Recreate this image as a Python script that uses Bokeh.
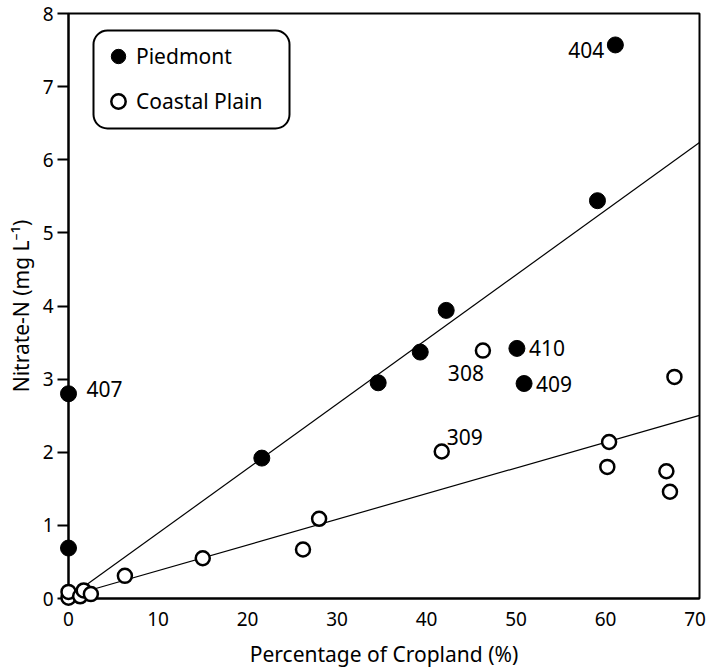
from bokeh.plotting import figure
from bokeh.models import (Range1d, FixedTicker, BoxAnnotation, Legend, LegendItem,
                          ColumnDataSource)
from bokeh.embed import file_html
from bokeh.resources import INLINE
from bokeh.core.properties import value

# ---- data ----
piedmont_x = [0.0, 0.0, 21.6, 34.6, 39.3, 42.2, 50.1, 50.9, 59.1, 61.1]
piedmont_y = [0.69, 2.80, 1.92, 2.95, 3.37, 3.94, 3.42, 2.94, 5.44, 7.57]
piedmont_lbl = ["", "407", "", "", "", "", "410", "409", "", "404"]

coastal_x = [0.0, 0.0, 1.3, 1.7, 2.5, 6.3, 15.0, 26.2, 28.0, 41.7, 46.3,
             60.2, 60.4, 66.8, 67.2, 67.7]
coastal_y = [0.01, 0.09, 0.03, 0.11, 0.06, 0.31, 0.55, 0.67, 1.09, 2.01, 3.39,
             1.80, 2.14, 1.74, 1.46, 3.03]
coastal_lbl = ["", "", "", "", "", "", "", "", "", "309", "308",
               "", "", "", "", ""]

# regression fits (slope, intercept)
piedmont_fit = (0.0883, 0.01)
coastal_fit = (0.0351, 0.03)
fit_x = [1.0, 70.5]

x_ticks = [0, 10, 20, 30, 40, 50, 60, 70]
y_ticks = [0, 1, 2, 3, 4, 5, 6, 7, 8]

FONT = "Noto Sans"

TOP, BOTTOM, LEFT, RIGHT = 13, 72, 68, 10
W, H = 709, 670
X0, X1, Y0, Y1 = 0, 70.5, 0, 8

p = figure(width=W, height=H, output_backend="svg", toolbar_location=None,
           x_range=Range1d(X0, X1), y_range=Range1d(Y0, Y1),
           min_border_left=LEFT, min_border_right=RIGHT, min_border_top=TOP,
           min_border_bottom=BOTTOM)
p.grid.visible = False
p.outline_line_color = "black"
p.outline_line_width = 2
p.background_fill_color = "white"
p.border_fill_color = "white"

# axes
p.xaxis.ticker = FixedTicker(ticks=x_ticks)
p.yaxis.ticker = FixedTicker(ticks=y_ticks)
for ax in (p.xaxis[0], p.yaxis[0]):
    ax.axis_line_width = 2
    ax.axis_line_color = "black"
    ax.minor_tick_line_color = None
    ax.major_label_text_font = FONT
    ax.major_label_text_font_size = "19px"
    ax.major_label_text_color = "black"
    ax.axis_label_text_font = FONT
    ax.axis_label_text_font_size = "21px"
    ax.axis_label_text_font_style = "normal"
    ax.axis_label_text_color = "black"

p.xaxis.major_tick_line_color = None
p.xaxis.major_tick_out = 0
p.xaxis.major_tick_in = 0
p.xaxis.major_label_standoff = 13
p.xaxis.axis_label = "Percentage of Cropland (%)"
p.xaxis.axis_label_standoff = 11

p.yaxis.major_tick_line_width = 2
p.yaxis.major_tick_out = 11
p.yaxis.major_tick_in = 0
p.yaxis.major_label_standoff = 4
p.yaxis.axis_label = "Nitrate-N (mg L\u207b\u00b9)"
p.yaxis.axis_label_standoff = 5

# fit lines
for (m, b) in (piedmont_fit, coastal_fit):
    p.line(fit_x, [m * x + b for x in fit_x], line_color="black", line_width=1.2)

# points
src_p = ColumnDataSource(dict(x=piedmont_x, y=piedmont_y, lbl=piedmont_lbl))
src_c = ColumnDataSource(dict(x=coastal_x, y=coastal_y, lbl=coastal_lbl))
r_c = p.scatter("x", "y", source=src_c, size=14, fill_color="white",
                line_color="black", line_width=2.5, level="overlay")
r_p = p.scatter("x", "y", source=src_p, size=16, fill_color="black",
                line_color="black", line_width=1, level="overlay")

# point labels
lab_style = dict(text_font=value(FONT), text_font_size="21px", text_color="black",
                 text_baseline="middle")
right_p = ("407", "410", "409")
rx = [x for x, l in zip(piedmont_x, piedmont_lbl) if l in right_p]
ry = [y for y, l in zip(piedmont_y, piedmont_lbl) if l in right_p]
rl = [l for l in piedmont_lbl if l in right_p]
p.text(rx, ry, text=rl, x_offset=[18, 12, 12], y_offset=[-5, 0, 0],
       text_align="left", **lab_style)
lx = [x for x, l in zip(piedmont_x, piedmont_lbl) if l == "404"]
ly = [y for y, l in zip(piedmont_y, piedmont_lbl) if l == "404"]
p.text(lx, ly, text=["404"], x_offset=[-11], y_offset=[5], text_align="right", **lab_style)
c308 = [(x, y) for x, y, l in zip(coastal_x, coastal_y, coastal_lbl) if l == "308"][0]
c309 = [(x, y) for x, y, l in zip(coastal_x, coastal_y, coastal_lbl) if l == "309"][0]
p.text([c308[0]], [c308[1]], text=["308"], x_offset=[1], y_offset=[22],
       text_align="right", **lab_style)
p.text([c309[0]], [c309[1]], text=["309"], x_offset=[5], y_offset=[-15],
       text_align="left", **lab_style)

# legend box (rounded), placed in pixel terms
FW = W - LEFT - RIGHT
FH = H - TOP - BOTTOM

def px2x(px):
    return X0 + (px - LEFT) / FW * (X1 - X0)

def py2y(py):
    return Y0 + (H - BOTTOM - py) / FH * (Y1 - Y0)

box = BoxAnnotation(left=px2x(93), right=px2x(289), top=py2y(30), bottom=py2y(128),
                    fill_color="white", fill_alpha=1, line_color="black",
                    line_alpha=1, line_width=2, border_radius=14, level="overlay")
p.add_layout(box)

legend = Legend(items=[LegendItem(label="Piedmont", renderers=[r_p]),
                       LegendItem(label="Coastal Plain", renderers=[r_c])],
                location=(25, (H - BOTTOM) - 126), orientation="vertical",
                padding=7, spacing=9, glyph_width=36, glyph_height=36,
                label_height=20, label_standoff=0, margin=0,
                label_text_font=FONT, label_text_font_size="21px",
                label_text_color="black",
                border_line_alpha=0, background_fill_alpha=0)
p.add_layout(legend)

open("out.html", "w").write(file_html(p, INLINE))
